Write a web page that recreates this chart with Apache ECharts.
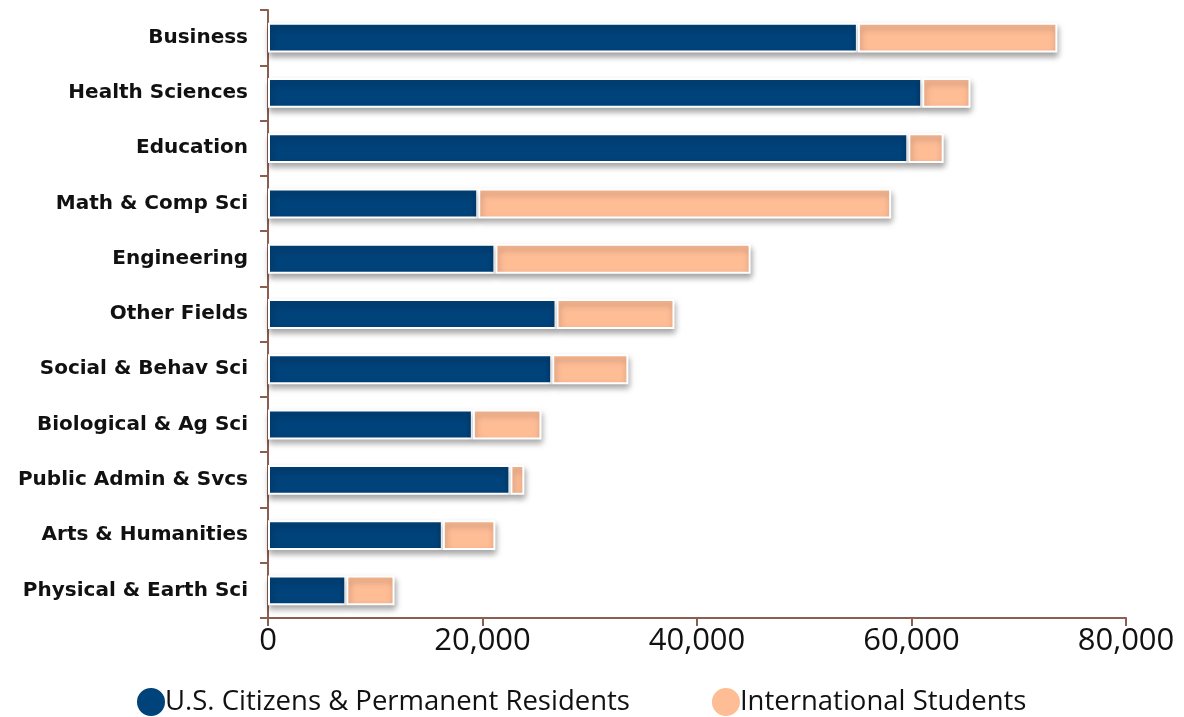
<!DOCTYPE html>
<html><head><meta charset="utf-8">
<script src="https://cdn.jsdelivr.net/npm/echarts@6/dist/echarts.min.js"></script>
<style>html,body{margin:0;padding:0;background:#fff}#c{width:1184px;height:717px}</style>
</head><body><div id="c"></div>
<script>
const categories = ["Business","Health Sciences","Education","Math & Comp Sci","Engineering","Other Fields","Social & Behav Sci","Biological & Ag Sci","Public Admin & Svcs","Arts & Humanities","Physical & Earth Sci"];
const usValues = [55000,61000,59700,19600,21200,26900,26500,19100,22600,16300,7300];
const intlValues = [18600,4500,3300,38500,23800,11000,7100,6400,1300,4900,4500];
const seriesNames = ["U.S. Citizens & Permanent Residents","International Students"];
const xTicks = [0,20000,40000,60000,80000];

const axisColor = '#8B5E52';
const chart = echarts.init(document.getElementById('c'));
const shadow = {borderColor:'#fff',borderWidth:2,shadowColor:'rgba(0,0,0,0.35)',shadowBlur:6,shadowOffsetY:4,shadowOffsetX:1};
chart.setOption({
  animation:false,
  grid:{left:268,right:58,top:10,bottom:99,containLabel:false},
  legend:{bottom:-6,left:130,itemGap:80,icon:'circle',itemWidth:30,itemHeight:30,
    textStyle:{fontFamily:'Open Sans',fontSize:27.5,color:'#111',padding:[0,0,0,-6]},
    data:seriesNames},
  xAxis:{type:'value',min:xTicks[0],max:xTicks[xTicks.length-1],interval:20000,
    axisLine:{show:true,lineStyle:{color:axisColor,width:2}},
    axisTick:{show:true,length:8,lineStyle:{color:axisColor,width:2}},
    splitLine:{show:false},
    axisLabel:{fontFamily:'Open Sans',fontSize:31,color:'#111',margin:8,
      formatter:v=>v.toLocaleString('en-US')}},
  yAxis:{type:'category',inverse:true,data:categories,
    axisLine:{show:true,lineStyle:{color:axisColor,width:2}},
    axisTick:{show:true,length:8,lineStyle:{color:axisColor,width:2}},
    axisLabel:{fontFamily:'DejaVu Sans',fontWeight:'bold',fontSize:20,color:'#111',margin:20}},
  series:[
    {name:seriesNames[0],type:'bar',stack:'a',data:usValues,barWidth:'54%',
      itemStyle:Object.assign({color:'#00427A'},shadow)},
    {name:seriesNames[1],type:'bar',stack:'a',data:intlValues,barWidth:'54%',
      itemStyle:Object.assign({color:'#FFBD96'},shadow)}
  ]
});
</script></body></html>
